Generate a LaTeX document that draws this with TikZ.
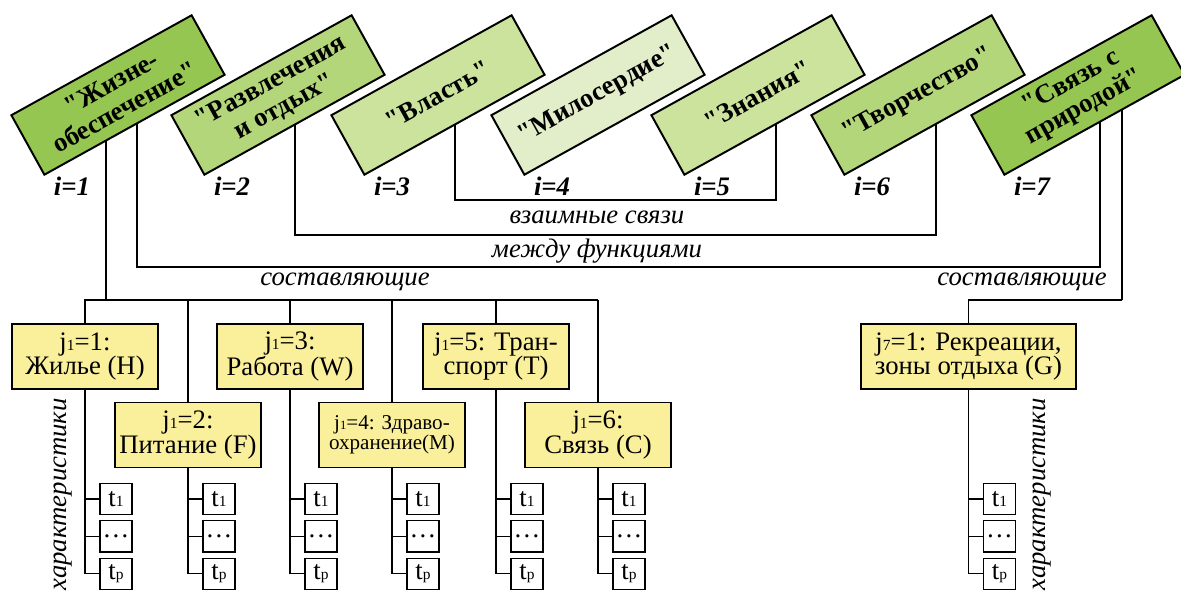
\documentclass[tikz,border=0pt]{standalone}
\usepackage{fontspec}
\setmainfont{Liberation Serif}
\usepackage{tikz}
\usetikzlibrary{calc,positioning,backgrounds}
\definecolor{gA}{RGB}{150,198,82}
\definecolor{gB}{RGB}{180,214,122}
\definecolor{gC}{RGB}{204,227,158}
\definecolor{gD}{RGB}{226,238,202}
\definecolor{jfill}{RGB}{250,240,155}
\def\fBig{\fontsize{19}{20}\selectfont}
\def\fMid{\fontsize{19}{17.5}\selectfont}
\def\fSml{\fontsize{15}{14.5}\selectfont}
\def\q{\XeTeXglyph\the\XeTeXcharglyph"22\relax}
\newcommand{\sbs}[1]{{\fontsize{11}{11}\selectfont #1}}
\tikzset{fbox/.style={draw=black,line width=1.4pt,rotate=29,align=center,minimum width=5.15cm,minimum height=1.7cm,inner sep=1pt,font=\fBig\bfseries}}
\tikzset{jbox/.style={draw=black,line width=1pt,fill=jfill,align=center,minimum width=3.65cm,minimum height=1.62cm,inner sep=1pt,font=\fMid}}
\tikzset{tbox/.style={draw=black,line width=0.8pt,fill=white,minimum width=0.8cm,minimum height=0.78cm,inner sep=0pt,font=\fMid}}
\tikzset{link/.style={black,line width=1.5pt}}
\tikzset{tree/.style={black,line width=0.8pt}}
\tikzset{lbl/.style={font=\fMid\itshape,inner sep=0pt}}

\begin{document}
\begin{tikzpicture}[x=0.025cm,y=-0.025cm]
\useasboundingbox (0,0) rectangle (1181,596);
% functions i=1..7
\foreach \t/\c [count=\i] in {{\q Жизне-\\обеспечение\q}/gA,{\q Развлечения\\и отдых\q}/gB,{\q Власть\q}/gC,{\q Милосердие\q}/gD,{\q Знания\q}/gC,{\q Творчество\q}/gB,{\q Связь с\\природой\q}/gA}{
\node[fbox,fill=\c] (f\i) at ({118+160*(\i-1)},95) {\t};
\node[font=\fMid\bfseries\itshape] (i\i) at ({72+160*(\i-1)},186) {i=\i};
}
\coordinate (bus) at (0,300);
\begin{pgfonlayer}{background}
\draw[link] ($(f1.center)+(19,0)$) -- ++(0,172) -| ($(f7.center)+(22,0)$);
\draw[link] ($(f2.center)+(17,0)$) -- ++(0,140) -| ($(f6.center)+(18,0)$);
\draw[link] ($(f3.center)+(17,0)$) -- ++(0,105) -| ($(f5.center)+(18,0)$);
\draw[tree] ($(f1.center)+(-12,0)$) -- ($(f1.center)+(-12,205)$);
\draw[tree] ($(f7.center)+(44,0)$) -- ++(0,205) coordinate (g7);
\end{pgfonlayer}
\node[lbl] (vz) at (597,217) {взаимные связи};
\node[lbl] (mf) at (597,251) {между функциями};
\node[lbl] (sL) at (345,282) {составляющие};
\node[lbl] (sR) at (1022,282) {составляющие};
% components
\node[jbox] (jH) at (85,356.5) {j\sbs{1}=1:\\Жилье (H)};
\node[jbox] (jW) at (290,356.5) {j\sbs{1}=3:\\Работа (W)};
\node[jbox] (jT) at (496,356.5) {j\sbs{1}=5: Тран-\\спорт (T)};
\node[jbox] (jF) at (188,435) {j\sbs{1}=2:\\Питание (F)};
\node[jbox,font=\fSml] (jM) at (392,435) {j{\fontsize{9}{9}\selectfont 1}=4: Здраво-\\охранение(M)};
\node[jbox] (jC) at (598,435) {j\sbs{1}=6:\\Связь (C)};
\node[jbox,minimum width=5.375cm] (jG) at (968.5,356.5) {j\sbs{7}=1: Рекреации,\\зоны отдыха (G)};
\draw[tree] (jH.north) |- (jC.north |- bus);
\foreach \j in {jH,jW,jT,jF,jM,jC}{\draw[tree] (\j.north) -- (\j.north |- bus);}
\draw[tree] (g7) -| (jG.north);
% characteristics
\foreach \j in {jH,jW,jT,jF,jM,jC,jG}{
\node[tbox] (\j-t1) at ($(\j.south |- 0,499)+(31,0)$) {t\sbs{1}};
\node[tbox,below=1.25mm of \j-t1] (\j-td) {\dots};
\node[tbox,below=1.25mm of \j-td] (\j-tp) {t\sbs{p}};
\draw[tree] (\j.south) |- (\j-tp.west);
\draw[tree] (\j-t1.west) -- (\j-t1.west -| \j.south);
\draw[tree] (\j-td.west) -- (\j-td.west -| \j.south);
}
\node[lbl,rotate=90,anchor=east] (chL) at (63,398) {характеристики};
\node[lbl,rotate=90,anchor=east] (chR) at (1042,398) {характеристики};
\end{tikzpicture}
\end{document}
